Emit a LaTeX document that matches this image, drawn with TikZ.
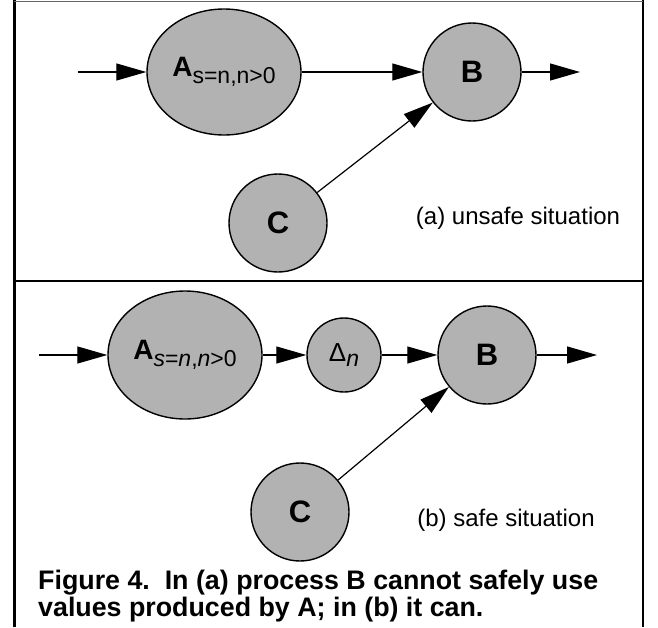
\documentclass[tikz,border=0pt]{standalone}
\usepackage{fontspec}
\setmainfont{Liberation Sans}
\usetikzlibrary{shapes.geometric,arrows.meta}
\definecolor{procgray}{gray}{0.70}
\newcommand{\procsub}[2][7pt]{\raisebox{-#1}{\fontsize{23}{23}\selectfont\mdseries #2}}
\begin{document}
\begin{tikzpicture}[x=1pt,y=-1pt,
proc/.style ={ellipse, draw=black, line width=1.4pt, fill=procgray,
  inner sep=0pt, minimum width=98pt, minimum height=98pt,
  font=\bfseries\fontsize{31}{33}\selectfont
},
flow/.style ={line width=1.2pt, -{Triangle[length=30pt,width=17pt]}},
note/.style ={font=\fontsize{24}{28}\selectfont, inner sep=0pt}
]
\useasboundingbox (0,0) rectangle (658,627);

% frame
\draw[line width=3pt] (14,0) -- (14,627);
\draw[line width=2pt] (643,0) -- (643,627);
\draw[line width=1pt, black!60] (14,1.5) -- (643,1.5);
\draw[line width=1.2pt] (14,281) -- (643,281);

% (a)
\node (a1) at (224,72) [proc, minimum width=154pt, minimum height=126pt, font=\bfseries\fontsize{28}{30}\selectfont] {A\procsub{s=n,n>0}};
\node (b1) at (472,72) [proc] {B};
\node (c1) at (278,223) [proc] {C};
\coordinate (in1) at (78,72);
\coordinate (out1) at (580,72);
\draw[flow] (in1) -- (a1);
\draw[flow] (a1) -- (b1);
\draw[flow] (b1) -- (out1);
\draw[flow] (c1) -- (b1);
\node (sa) at (518,218) [note] {(a) unsafe situation};

% (b)
\node (a2) at (185,355) [proc, minimum width=154pt, minimum height=128pt, font=\bfseries\fontsize{28}{30}\selectfont] {A\procsub{\textit{s}=\textit{n},\textit{n}>0}};
\node (d2) at (344,355) [proc, minimum width=74pt, minimum height=74pt, font=\fontsize{26}{28}\selectfont] {Δ\procsub[5pt]{\textit{n}}};
\node (b2) at (487,355) [proc] {B};
\node (c2) at (300,512) [proc] {C};
\coordinate (in2) at (39,355);
\coordinate (out2) at (597,355);
\draw[flow] (in2) -- (a2);
\draw[flow] (a2) -- (d2);
\draw[flow] (d2) -- (b2);
\draw[flow] (b2) -- (out2);
\draw[flow] (c2) -- (b2);
\node (sb) at (506,520) [note] {(b) safe situation};

% caption
\node (cap1) at (38,589) [anchor=base west, inner sep=0pt, font=\bfseries\fontsize{26.8}{27}\selectfont] {Figure 4.\ \ In (a) process B cannot safely use};
\node (cap2) at (38,616) [anchor=base west, inner sep=0pt, font=\bfseries\fontsize{26.8}{27}\selectfont] {values produced by A; in (b) it can.};
\end{tikzpicture}
\end{document}
